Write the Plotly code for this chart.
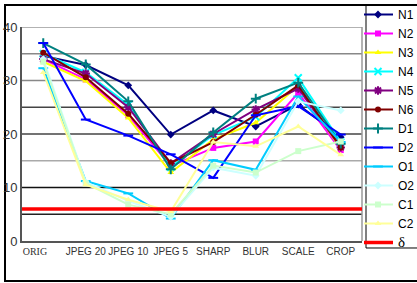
import plotly.graph_objects as go

categories = ["ORIG", "JPEG 20", "JPEG 10", "JPEG 5", "SHARP", "BLUR", "SCALE", "CROP"]
series_names = ["N1", "N2", "N3", "N4", "N5", "N6", "D1", "D2", "O1", "O2", "C1", "C2"]

N1 = [34.6, 32.9, 29.1, 19.9, 24.4, 21.4, 25.5, 19.4]
N2 = [34.0, 30.2, 23.5, 14.0, 17.4, 18.6, 27.7, 17.0]
N3 = [33.5, 29.9, 23.0, 12.8, 19.0, 22.1, 29.0, 17.2]
N4 = [35.0, 31.5, 25.5, 13.8, 19.8, 23.2, 30.5, 18.5]
N5 = [34.0, 31.3, 25.0, 14.5, 20.0, 24.6, 28.5, 17.5]
N6 = [35.2, 30.6, 23.8, 14.6, 18.5, 23.6, 29.1, 17.5]
D1 = [37.0, 33.0, 26.1, 13.4, 20.3, 26.6, 29.6, 18.2]
D2 = [37.0, 22.7, 19.7, 16.2, 11.8, 23.5, 25.2, 19.9]
O1 = [32.3, 11.2, 8.9, 4.2, 15.1, 13.3, 27.0, 18.5]
O2 = [34.0, 11.0, 7.5, 4.5, 13.7, 12.2, 26.1, 24.4]
C1 = [33.5, 10.8, 6.8, 5.0, 14.1, 12.8, 16.8, 18.6]
C2 = [31.5, 10.5, 7.7, 5.5, 18.5, 17.7, 21.4, 16.1]
delta = 6

y_ticks = [0, 10, 20, 30, 40]
grid_vals = [5, 10, 15, 20, 25, 30, 35, 40]
grid_colors = ["#222222", "#111111", "#aaaaaa", "#444444", "#444444", "#888888", "#888888", "#999999"]

values = [N1, N2, N3, N4, N5, N6, D1, D2, O1, O2, C1, C2]
colors = ["#000080", "#FF00FF", "#FFFF00", "#00FFFF", "#800080", "#800000",
          "#008080", "#0000FF", "#00CCFF", "#CCFFFF", "#CCFFCC", "#FFFF99"]
symbols = ["diamond", "square", "triangle-up", "x-thin", "asterisk", "circle",
           "cross-thin", "line-ew", "line-ew", "diamond", "square", "triangle-up"]

FONT = "Liberation Sans, Arial, sans-serif"
xs = list(range(len(categories)))

fig = go.Figure()
for name, vals, col, sym in zip(series_names, values, colors, symbols):
    thin = sym in ("x-thin", "asterisk", "cross-thin", "line-ew")
    fig.add_trace(go.Scatter(
        x=xs, y=vals, name=name, mode="lines+markers",
        line=dict(color=col, width=2),
        marker=dict(symbol=sym, size=7 if thin else 6, color=col,
                    line=dict(color=col, width=2 if thin else 0)),
    ))

fig.add_trace(go.Scatter(
    x=[-0.5, len(categories) - 0.5], y=[delta, delta], mode="lines",
    name="<span style='font-family:Liberation Serif;font-size:15px'>δ</span>",
    line=dict(color="#FF0000", width=3.5),
))

shapes = []
for gv, gc in zip(grid_vals, grid_colors):
    shapes.append(dict(type="line", xref="paper", yref="y", x0=0, x1=1, y0=gv, y1=gv,
                       line=dict(color=gc, width=1.5), layer="below"))
# right plot border
shapes.append(dict(type="line", xref="paper", yref="paper", x0=1, x1=1, y0=0, y1=1,
                   line=dict(color="#999999", width=1.5), layer="below"))
# legend box
shapes.append(dict(type="rect", xref="paper", yref="paper", x0=1.0118, x1=1.2, y0=-0.0327, y1=1.103,
                   line=dict(color="#000000", width=1), fillcolor="white", layer="below"))
# outer frame
shapes.append(dict(type="rect", xref="paper", yref="paper", x0=-0.05, x1=1.2, y0=-0.187, y1=1.103,
                   line=dict(color="#000000", width=2), layer="below"))

ticktext = ["<span style='font-family:Liberation Serif'>ORIG</span>" + "&nbsp;" * 6] + categories[1:]

fig.update_layout(
    template="none",
    width=417, height=283,
    margin=dict(l=22, r=55, t=27, b=42, autoexpand=False),
    paper_bgcolor="white", plot_bgcolor="white",
    font=dict(family=FONT, color="#333333"),
    shapes=shapes,
    showlegend=True,
    legend=dict(xref="container", yref="container", x=364 / 417, y=1.0,
                xanchor="left", yanchor="top", maxheight=283,
                borderwidth=0, bgcolor="rgba(0,0,0,0)",
                font=dict(family=FONT, size=12, color="#000000"),
                tracegroupgap=0, itemwidth=30, indentation=-6),
    xaxis=dict(range=[-0.5, len(categories) - 0.5], tickmode="array", tickvals=xs,
               ticktext=ticktext, showgrid=False, zeroline=False, automargin=False,
               showline=True, linecolor="#555555", linewidth=2, tickangle=0,
               ticks="", tickfont=dict(size=10, color="#333333")),
    yaxis=dict(range=[0, 40], tickmode="array", tickvals=y_ticks, showgrid=False,
               zeroline=False, showline=True, linecolor="#555555", linewidth=2,
               automargin=False, ticks="", tickfont=dict(size=13, color="#333333")),
)

fig.write_html("out.html", config={"displayModeBar": False},
               post_script="document.body.style.margin='0';document.body.style.overflow='hidden';")
